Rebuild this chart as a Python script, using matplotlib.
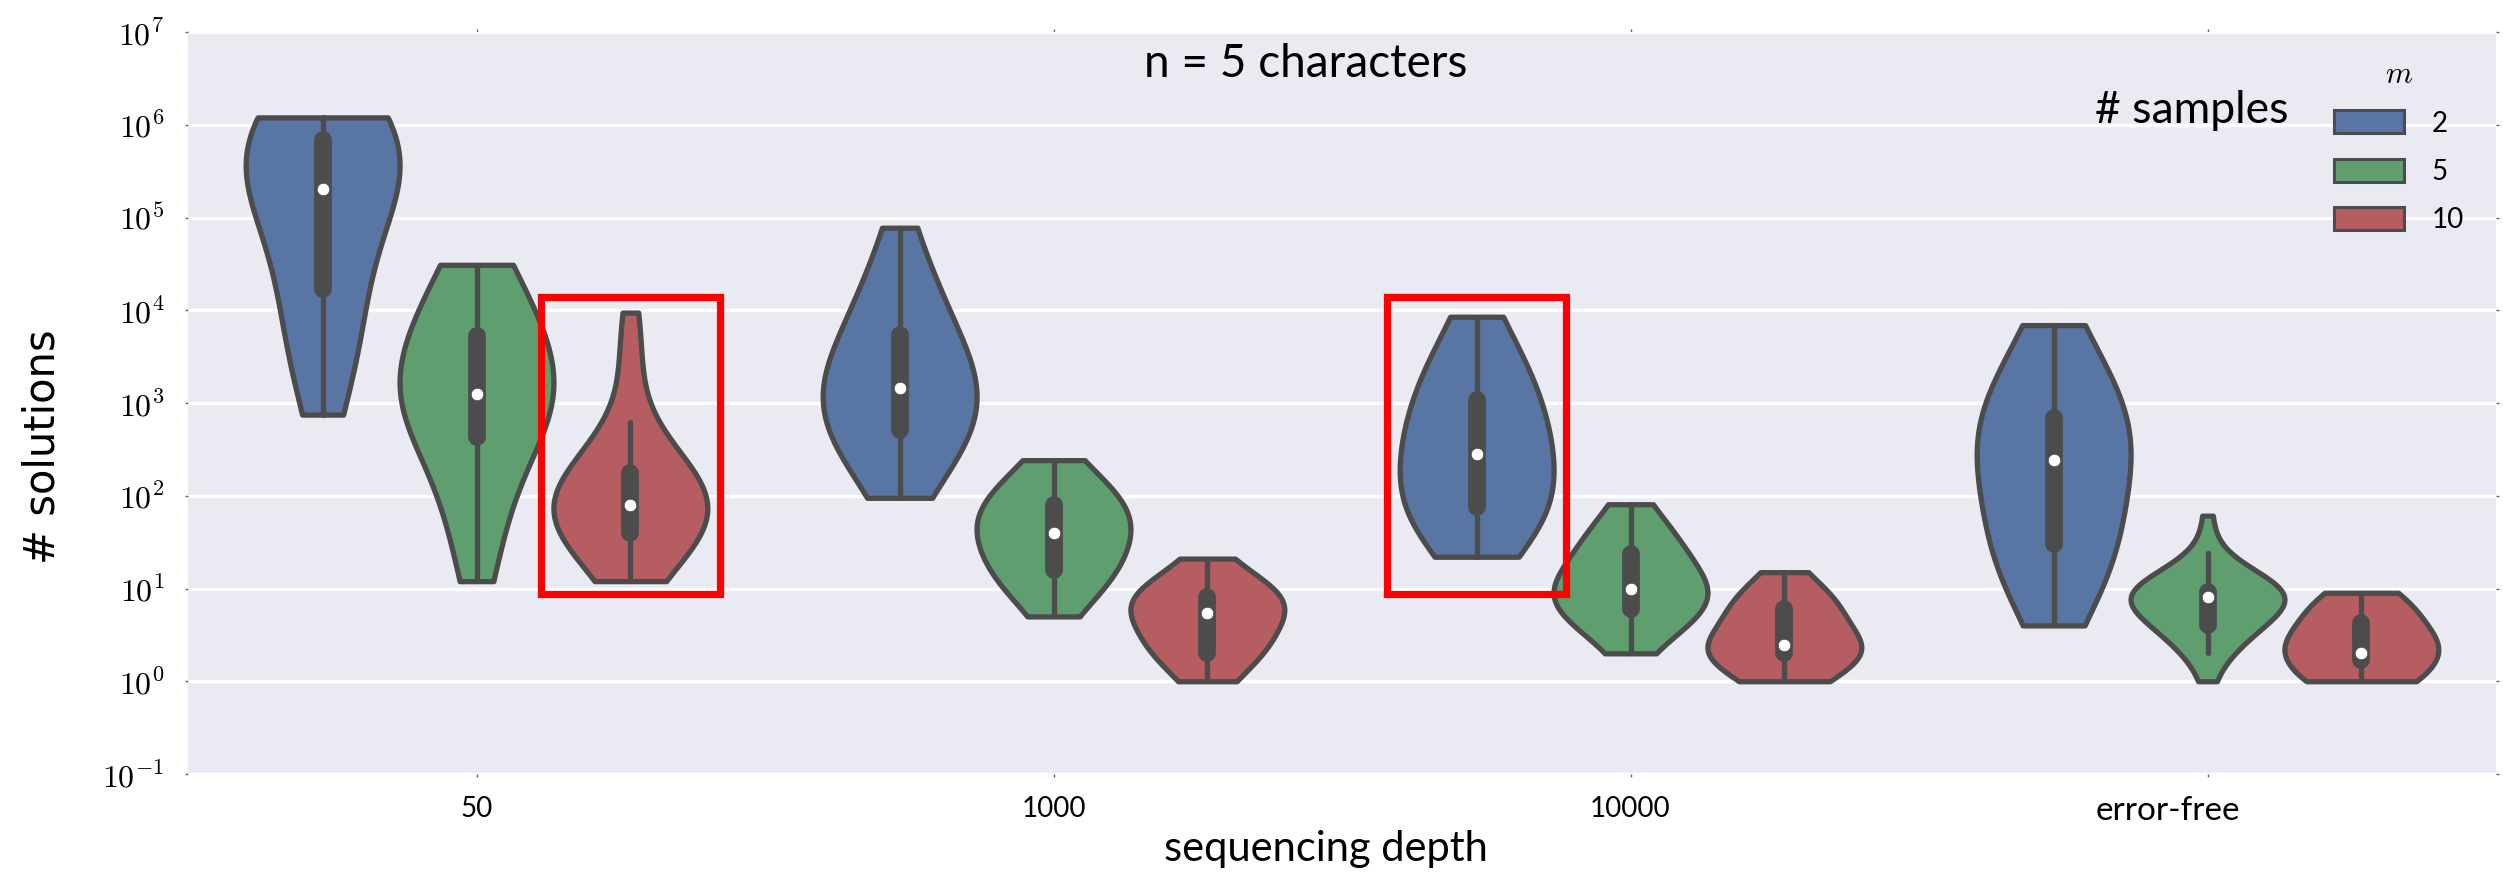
import numpy as np
import matplotlib
matplotlib.use("Agg")
import matplotlib.pyplot as plt
from matplotlib.patches import Rectangle, Patch
from matplotlib.ticker import FixedLocator, FuncFormatter, NullLocator
from matplotlib.transforms import ScaledTranslation
from matplotlib import cbook

plt.rcParams["mathtext.fontset"] = "cm"
plt.rcParams["font.family"] = ["Lato", "DejaVu Sans"]

# ---- data -----------------------------------------------------------------
depths = ["50", "1000", "10000", "error-free"]
num_samples = [2, 5, 10]
palette = ["#5975a4", "#5f9e6e", "#b55d60"]

# number of solutions found per simulated instance
depth50_m2 = [750, 1120, 2000, 3160, 5010, 7080, 10000, 14100, 17800, 28200,
              44700, 70800, 100000, 126000, 158000, 191000, 219000, 263000,
              316000, 363000, 417000, 479000, 550000, 631000, 891000, 1000000,
              1096000, 1200000, 1200000, 1200000, 1200000, 1200000]
depth50_m5 = [12, 20, 35, 63, 100, 158, 240, 355, 457, 562, 708, 832, 955,
              1070, 1175, 1230, 1290, 1445, 1740, 2090, 2630, 3310, 4170, 5010,
              6030, 7590, 9550, 12600, 16600, 22400, 30900, 30900]
depth50_m10 = [12, 14, 18, 22, 26, 30, 34, 37, 40, 46, 52, 59, 65, 69, 74, 78,
               79, 85, 93, 105, 117, 132, 148, 162, 178, 209, 251, 302, 398,
               631, 2240, 4470, 9440]

depth1000_m2 = [95, 126, 166, 214, 263, 316, 380, 447, 513, 589, 676, 776, 891,
                1000, 1148, 1288, 1445, 1660, 1905, 2188, 2570, 3020, 3631,
                4365, 5370, 6607, 8318, 10715, 14125, 19498, 28184, 44668,
                77625]
depth1000_m5 = [5, 6, 8, 10, 11, 13, 14, 15, 16, 18, 21, 24, 27, 30, 33, 37,
                40, 44, 48, 52, 57, 62, 67, 72, 79, 88, 98, 110, 125, 145, 170,
                205, 242]
depth1000_m10 = [1, 1, 1, 2, 2, 2, 2, 2, 2, 3, 3, 3, 4, 4, 4, 5, 6, 6, 6, 7, 7,
                 7, 8, 8, 8, 9, 10, 11, 12, 14, 17, 21]

depth10000_m2 = [22, 28, 34, 40, 47, 54, 60, 68, 76, 89, 105, 123, 145, 170,
                 200, 240, 285, 339, 398, 468, 550, 646, 759, 912, 1086, 1318,
                 1622, 1995, 2512, 3311, 4467, 6166, 8511]
depth10000_m5 = [2, 3, 3, 4, 4, 5, 5, 6, 6, 7, 7, 8, 8, 9, 9, 10, 10, 11, 12,
                 14, 16, 18, 21, 23, 25, 28, 32, 37, 44, 52, 65, 81]
depth10000_m10 = [1, 1, 1, 1, 1, 2, 2, 2, 2, 2, 2, 2, 2, 2, 2, 2, 3, 3, 3, 4, 4,
                  5, 5, 6, 6, 7, 7, 8, 9, 10, 12, 15]

errorfree_m2 = [4, 6, 9, 12, 15, 18, 22, 26, 30, 39, 50, 65, 83, 107, 138, 178,
                240, 275, 316, 363, 417, 479, 537, 603, 684, 891, 1148, 1479,
                1905, 2512, 3388, 4786, 6918]
errorfree_m5 = [1, 2, 2, 3, 3, 3, 4, 4, 4, 5, 5, 6, 6, 7, 7, 8, 8, 8, 9, 9, 9,
                9, 9, 9, 10, 11, 12, 13, 15, 17, 24, 61]
errorfree_m10 = [1, 1, 1, 1, 1, 1, 1, 1, 2, 2, 2, 2, 2, 2, 2, 2, 2, 3, 3, 3, 3,
                 4, 4, 4, 5, 6, 6, 7, 7, 8, 9, 9]

solutions = {
    ("50", 2): depth50_m2, ("50", 5): depth50_m5, ("50", 10): depth50_m10,
    ("1000", 2): depth1000_m2, ("1000", 5): depth1000_m5,
    ("1000", 10): depth1000_m10,
    ("10000", 2): depth10000_m2, ("10000", 5): depth10000_m5,
    ("10000", 10): depth10000_m10,
    ("error-free", 2): errorfree_m2, ("error-free", 5): errorfree_m5,
    ("error-free", 10): errorfree_m10,
}
highlighted = [("50", 10), ("10000", 2)]

# ---- figure ---------------------------------------------------------------
W, H = 2503, 872
fig = plt.figure(figsize=(W / 100, H / 100), dpi=100)
ax = fig.add_axes([188 / W, 1 - 774 / H, (2496 - 188) / W, (774 - 32) / H])
ax.set_facecolor("#EAEAF2")
for sp in ax.spines.values():
    sp.set_visible(False)

ax.set_yscale("log")
ax.set_ylim(1e-1, 1e7)
ax.set_xlim(-0.5, len(depths) - 0.5)
ax.yaxis.grid(True, color="white", lw=2.4)
ax.xaxis.grid(False)
ax.set_axisbelow(True)

gray = "#4c4c4c"
lw = 3.8
bw_factor = 0.7
group_width = 0.8
each = group_width / len(num_samples)
offsets = np.linspace(-group_width / 2 + each / 2, group_width / 2 - each / 2,
                      len(num_samples))

for i, d in enumerate(depths):
    for j, m in enumerate(num_samples):
        logv = np.log10(np.asarray(solutions[(d, m)], dtype=float))
        pos = i + offsets[j]
        # gaussian KDE in log space, truncated at the data range
        support = np.linspace(logv.min(), logv.max(), 200)
        bw = bw_factor * logv.std(ddof=1)
        dens = np.exp(-0.5 * ((support[:, None] - logv[None, :]) / bw) ** 2).sum(axis=1)
        half = dens / dens.max() * each / 2
        ax.fill_betweenx(10 ** support, pos - half, pos + half,
                         facecolor=palette[j], edgecolor=gray, lw=lw, zorder=2)
        st = cbook.boxplot_stats(logv, whis=1.5)[0]
        ax.plot([pos, pos], [10 ** st["whislo"], 10 ** st["whishi"]],
                color=gray, lw=lw, solid_capstyle="round", zorder=3)
        ax.plot([pos, pos], [10 ** st["q1"], 10 ** st["q3"]],
                color=gray, lw=12.8, solid_capstyle="round", zorder=3)
        ax.scatter([pos], [10 ** st["med"]], s=80, color="white",
                   edgecolor=gray, linewidth=0.5, zorder=4)

# highlight boxes
for d, m in highlighted:
    c = depths.index(d) + offsets[num_samples.index(m)]
    ax.add_patch(Rectangle((c - 0.155, 8.7), 0.31, 14000 - 8.7, fill=False,
                           edgecolor="#ff0000", lw=5.2, zorder=6,
                           joinstyle="miter"))

# axes ticks
ax.yaxis.set_major_locator(FixedLocator([10.0 ** k for k in range(-1, 8)]))
ax.yaxis.set_minor_locator(NullLocator())
ax.yaxis.set_major_formatter(
    FuncFormatter(lambda v, _: r"$10^{%d}$" % int(round(np.log10(v)))))
ax.tick_params(axis="y", labelsize=23, pad=15, length=2, width=1,
               color="#666666", right=True)
ax.set_xticks(range(len(depths)))
ax.set_xticklabels(depths)
ax.tick_params(axis="x", labelsize=20, pad=14, length=2, width=1,
               color="#666666", top=True)
last = ax.get_xticklabels()[-1]
last.set_fontsize(24)
last.set_transform(last.get_transform() +
                   ScaledTranslation(-0.40, 0, fig.dpi_scale_trans))

# labels and annotations
fig.text(43 / W, 1 - 447 / H, "# solutions", rotation=90, ha="center",
         va="center", fontsize=30, family="DejaVu Sans")
fig.text(1326 / W, 1 - 861 / H, "sequencing depth", ha="center",
         va="baseline", fontsize=30)
ax.text(0.4844, 0.9394, "n = 5 characters", transform=ax.transAxes,
        ha="center", va="baseline", fontsize=33)
ax.text(0.8683, 0.8774, "# samples", transform=ax.transAxes,
        ha="center", va="baseline", fontsize=32)

handles = [Patch(facecolor=palette[j], edgecolor=gray, lw=2.2, label=str(m))
           for j, m in enumerate(num_samples)]
leg = ax.legend(handles=handles, title="$m$", loc="upper right",
                bbox_to_anchor=(0.986, 0.962), frameon=False, fontsize=20,
                title_fontsize=22, handlelength=2.5, handleheight=0.9,
                labelspacing=0.8, handletextpad=1.0, borderaxespad=0,
                borderpad=0)

fig.savefig("out.png", dpi=100, facecolor="white")
